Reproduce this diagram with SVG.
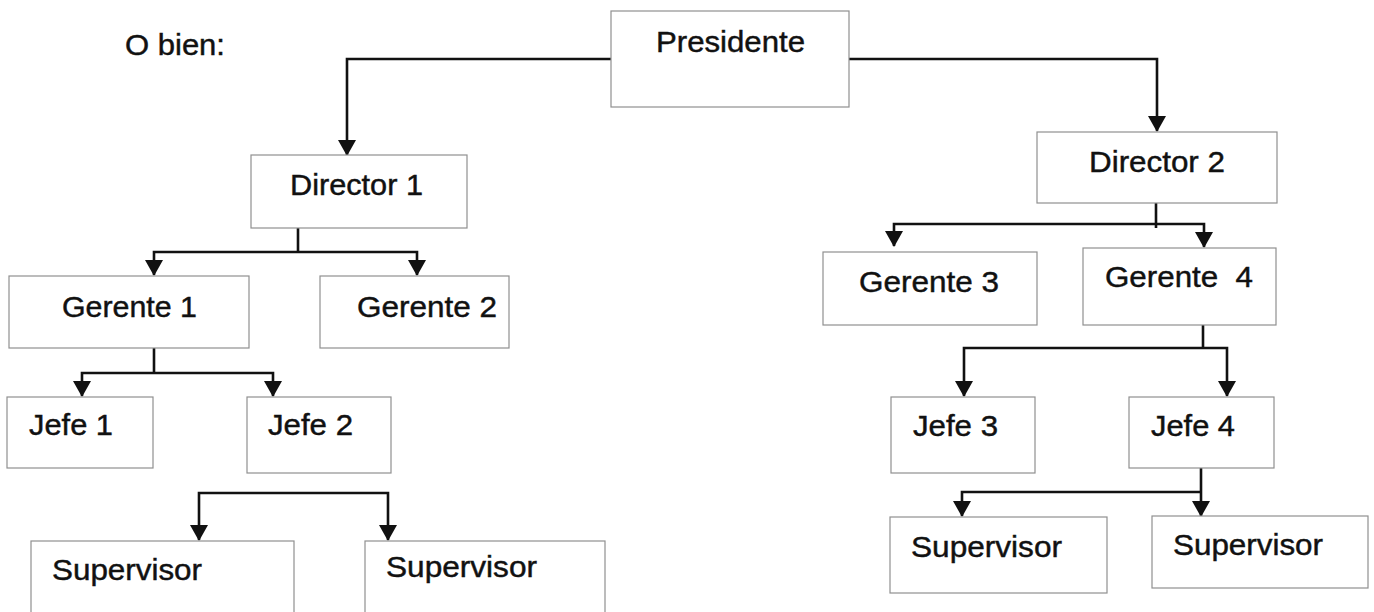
<svg xmlns="http://www.w3.org/2000/svg" width="1374" height="612" viewBox="0 0 1374 612">
<style>
.box{fill:#ffffff;stroke:#909090;stroke-width:1.2}
.lbl{font-family:"Liberation Sans",Arial,sans-serif;font-size:30px;fill:#111111;stroke:#111111;stroke-width:0.45;white-space:pre}
.con{fill:none;stroke:#111111;stroke-width:2.6}
</style>
<defs>
<marker id="ah" markerUnits="userSpaceOnUse" markerWidth="16" markerHeight="18" viewBox="0 0 16 18" refX="15" refY="9" orient="auto">
<path d="M0,0 L16,9 L0,18 z" fill="#111111"/>
</marker>
</defs>
<rect width="1374" height="612" fill="#ffffff"/>
<text class="lbl" x="125" y="55" textLength="100" lengthAdjust="spacingAndGlyphs">O bien:</text>
<g id="connectors">
<path class="con" d="M611,59 H347 V155" marker-end="url(#ah)"/>
<path class="con" d="M849,59 H1157 V131" marker-end="url(#ah)"/>
<path class="con" d="M298,228 V252"/>
<path class="con" d="M298,252 H154 V275" marker-end="url(#ah)"/>
<path class="con" d="M298,252 H417 V275" marker-end="url(#ah)"/>
<path class="con" d="M154,348 V373"/>
<path class="con" d="M154,373 H82 V396" marker-end="url(#ah)"/>
<path class="con" d="M154,373 H273 V396" marker-end="url(#ah)"/>
<path class="con" d="M294,493 H199 V540" marker-end="url(#ah)"/>
<path class="con" d="M294,493 H388 V540" marker-end="url(#ah)"/>
<path class="con" d="M1156,203 V228"/>
<path class="con" d="M1156,224 H894 V246" marker-end="url(#ah)"/>
<path class="con" d="M1156,224 H1204 V247" marker-end="url(#ah)"/>
<path class="con" d="M1203,325 V348"/>
<path class="con" d="M1203,348 H964 V396" marker-end="url(#ah)"/>
<path class="con" d="M1203,348 H1227 V396" marker-end="url(#ah)"/>
<path class="con" d="M1201,468 V516" marker-end="url(#ah)"/>
<path class="con" d="M1201,492 H962 V516" marker-end="url(#ah)"/>
</g>
<g id="presidente"><rect class="box" x="611" y="11" width="238" height="96"/><text class="lbl" x="656" y="52" textLength="149" lengthAdjust="spacingAndGlyphs">Presidente</text></g>
<g id="director1"><rect class="box" x="251" y="155" width="216" height="73"/><text class="lbl" x="290" y="195" textLength="133" lengthAdjust="spacingAndGlyphs">Director 1</text></g>
<g id="director2"><rect class="box" x="1037" y="132" width="240" height="71"/><text class="lbl" x="1089" y="172" textLength="136" lengthAdjust="spacingAndGlyphs">Director 2</text></g>
<g id="gerente1"><rect class="box" x="9" y="276" width="240" height="72"/><text class="lbl" x="62" y="317" textLength="135" lengthAdjust="spacingAndGlyphs">Gerente 1</text></g>
<g id="gerente2"><rect class="box" x="320" y="276" width="189" height="72"/><text class="lbl" x="357" y="317" textLength="140" lengthAdjust="spacingAndGlyphs">Gerente 2</text></g>
<g id="gerente3"><rect class="box" x="823" y="252" width="214" height="73"/><text class="lbl" x="859" y="292" textLength="140" lengthAdjust="spacingAndGlyphs">Gerente 3</text></g>
<g id="gerente4"><rect class="box" x="1083" y="248" width="193" height="77"/><text class="lbl" x="1105" y="287" textLength="148" lengthAdjust="spacingAndGlyphs" xml:space="preserve">Gerente  4</text></g>
<g id="jefe1"><rect class="box" x="7" y="397" width="146" height="71"/><text class="lbl" x="29" y="435" textLength="84" lengthAdjust="spacingAndGlyphs">Jefe 1</text></g>
<g id="jefe2"><rect class="box" x="247" y="397" width="144" height="76"/><text class="lbl" x="268" y="435" textLength="85" lengthAdjust="spacingAndGlyphs">Jefe 2</text></g>
<g id="jefe3"><rect class="box" x="891" y="397" width="144" height="76"/><text class="lbl" x="913" y="436" textLength="85" lengthAdjust="spacingAndGlyphs">Jefe 3</text></g>
<g id="jefe4"><rect class="box" x="1129" y="397" width="145" height="71"/><text class="lbl" x="1151" y="436" textLength="84" lengthAdjust="spacingAndGlyphs">Jefe 4</text></g>
<g id="supervisor1"><rect class="box" x="31" y="541" width="263" height="80"/><text class="lbl" x="52" y="580" textLength="150" lengthAdjust="spacingAndGlyphs">Supervisor</text></g>
<g id="supervisor2"><rect class="box" x="365" y="541" width="240" height="80"/><text class="lbl" x="386" y="577" textLength="151" lengthAdjust="spacingAndGlyphs">Supervisor</text></g>
<g id="supervisor3"><rect class="box" x="890" y="517" width="217" height="76"/><text class="lbl" x="911" y="557" textLength="151" lengthAdjust="spacingAndGlyphs">Supervisor</text></g>
<g id="supervisor4"><rect class="box" x="1152" y="516" width="216" height="72"/><text class="lbl" x="1173" y="555" textLength="150" lengthAdjust="spacingAndGlyphs">Supervisor</text></g>
</svg>
